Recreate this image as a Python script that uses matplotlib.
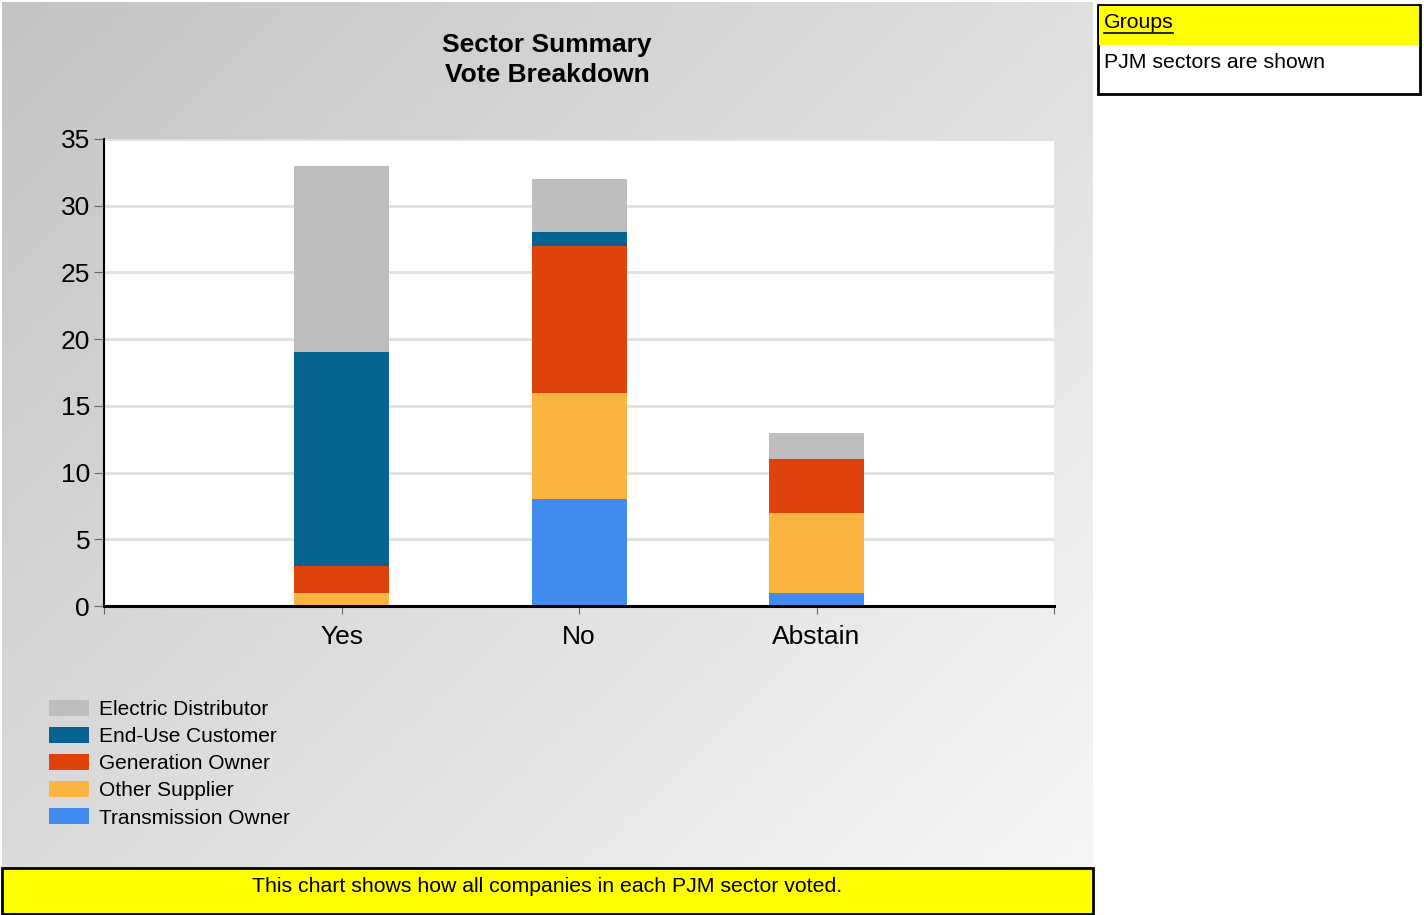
import numpy as np
import matplotlib
matplotlib.use("Agg")
import matplotlib.pyplot as plt
from matplotlib.patches import Patch, Rectangle

plt.rcParams['font.family'] = ['Liberation Sans', 'DejaVu Sans']

categories = ["Yes", "No", "Abstain"]
sectors = ["Transmission Owner", "Other Supplier", "Generation Owner",
           "End-Use Customer", "Electric Distributor"]
transmission_owner = [0, 8, 1]
other_supplier = [1, 8, 6]
generation_owner = [2, 11, 4]
end_use_customer = [16, 1, 0]
electric_distributor = [14, 4, 2]
colors = ["#418bef", "#fbb440", "#e0420b", "#066391", "#bebebe"]

series = [transmission_owner, other_supplier, generation_owner,
          end_use_customer, electric_distributor]

W, H = 1424, 915
fig = plt.figure(figsize=(W / 100, H / 100), dpi=100)
fig.patch.set_facecolor("white")

def fx(px):
    return px / W

def fy(py):
    return 1 - py / H

# gradient background panel
bg = fig.add_axes([fx(2), fy(867), fx(1093) - fx(2), fy(2) - fy(867)], zorder=0)
gx, gy = np.meshgrid(np.linspace(0, 1, 300), np.linspace(0, 1, 300))
grad = (gx * 0.55 + gy * 0.45)
bg.imshow(grad, cmap=matplotlib.colors.LinearSegmentedColormap.from_list(
    "g", ["#c4c4c4", "#f6f6f6"]), aspect="auto", extent=[0, 1, 0, 1], origin="upper")
bg.set_axis_off()

# main chart
ax = fig.add_axes([fx(104), fy(606), fx(1054) - fx(104), fy(139) - fy(606)], zorder=2)
x = np.arange(len(categories))
bottom = np.zeros(len(categories))
for vals, c in zip(series, colors):
    ax.bar(x, vals, 0.4, bottom=bottom, color=c, zorder=3)
    bottom += np.array(vals)

ax.set_xlim(-1, 3)
ax.set_ylim(0, 35)
ax.set_yticks(np.arange(0, 36, 5))
ax.set_xticks([-1, 0, 1, 2, 3])
ax.set_xticklabels(["", "Yes", "No", "Abstain", ""])
ax.tick_params(axis="y", labelsize=19, length=7, color="#666666", pad=3)
ax.tick_params(axis="x", labelsize=19, length=6, color="#666666", pad=8)
ax.yaxis.grid(True, color="#e0e0e0", linewidth=2, zorder=0)
ax.set_axisbelow(True)
for s in ["top", "right"]:
    ax.spines[s].set_visible(False)
ax.spines["left"].set_linewidth(1.5)
ax.spines["bottom"].set_linewidth(2.2)
ax.spines["bottom"].set_zorder(5)

fig.text(fx(547), fy(60), "Sector Summary\nVote Breakdown", ha="center", va="center",
         fontsize=19, fontweight="bold", linespacing=1.33, zorder=3)

handles = [Patch(facecolor=c, edgecolor="none") for c in colors[::-1]]
fig.legend(handles, sectors[::-1], loc="upper left",
           bbox_to_anchor=(fx(49), fy(700)), frameon=False, fontsize=15,
           handlelength=1.92, handleheight=0.82, labelspacing=0.37,
           handletextpad=0.5, borderpad=0, borderaxespad=0)

# bottom note box
fig.patches.append(Rectangle((fx(2), fy(914)), fx(1093) - fx(2), fy(868) - fy(914),
                             transform=fig.transFigure, facecolor="#ffff00",
                             edgecolor="black", linewidth=2, zorder=3))
fig.text(fx(547), fy(887), "This chart shows how all companies in each PJM sector voted.",
         ha="center", va="center", fontsize=15.3, zorder=4)

# groups box
fig.patches.append(Rectangle((fx(1098), fy(94)), fx(1420) - fx(1098), fy(5) - fy(94),
                             transform=fig.transFigure, facecolor="white",
                             edgecolor="black", linewidth=2, zorder=3))
fig.patches.append(Rectangle((fx(1099), fy(45)), fx(1419) - fx(1099), fy(6) - fy(45),
                             transform=fig.transFigure, facecolor="#ffff00",
                             edgecolor="none", zorder=3))
fig.text(fx(1104), fy(23), "Groups", ha="left", va="center", fontsize=15.3, zorder=4)
fig.lines.append(plt.Line2D([fx(1104), fx(1173)], [fy(33), fy(33)], transform=fig.transFigure,
                            color="black", linewidth=1.2, zorder=4))
fig.text(fx(1104), fy(63), "PJM sectors are shown", ha="left", va="center",
         fontsize=15.3, zorder=4)

fig.savefig("out.png", dpi=100)
